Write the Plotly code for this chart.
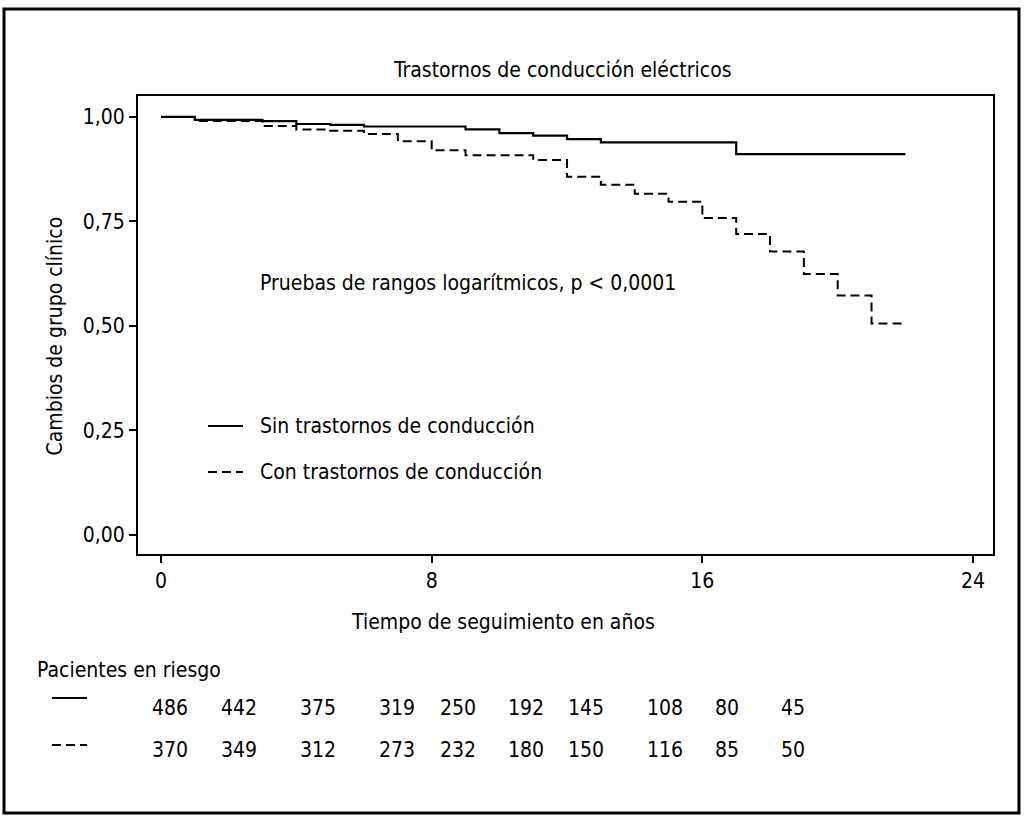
import plotly.graph_objects as go

# ---- data ----
t_sin = [0, 1, 3, 4, 5, 6, 9, 10, 11, 12, 13, 17, 22]
s_sin = [1.000, 0.993, 0.990, 0.983, 0.981, 0.977, 0.970, 0.961, 0.955, 0.947, 0.939, 0.911, 0.911]

t_con = [0, 1, 3, 4, 5, 6, 7, 8, 9, 11, 12, 13, 14, 15, 16, 17, 18, 19, 20, 21, 22]
s_con = [1.000, 0.990, 0.978, 0.970, 0.967, 0.959, 0.942, 0.920, 0.908, 0.897, 0.857,
         0.838, 0.816, 0.797, 0.758, 0.720, 0.678, 0.624, 0.573, 0.506, 0.506]

risk_sin = [486, 442, 375, 319, 250, 192, 145, 108, 80, 45]
risk_con = [370, 349, 312, 273, 232, 180, 150, 116, 85, 50]

x_ticks = [0, 8, 16, 24]
y_ticks = [0, 0.25, 0.5, 0.75, 1.0]

title_txt = "Trastornos de conducción eléctricos"
xtitle_txt = "Tiempo de seguimiento en años"
ytitle_txt = "Cambios de grupo clínico"
test_txt = "Pruebas de rangos logarítmicos, p < 0,0001"
name_sin = "Sin trastornos de conducción"
name_con = "Con trastornos de conducción"
risk_title = "Pacientes en riesgo"

# ---- layout helpers (positions, not data) ----
risk_cols = [0.27, 2.31, 4.65, 6.98, 8.78, 10.79, 12.56, 14.9, 16.73, 18.68]

FONT = "DejaVu Sans Condensed, Liberation Sans, sans-serif"
FS = 21
DASH = "9px,5px"

fig = go.Figure()
fig.add_trace(go.Scatter(x=t_sin, y=s_sin, mode="lines", line_shape="hv",
                         line=dict(color="black", width=2.2), name=name_sin, showlegend=False))
fig.add_trace(go.Scatter(x=t_con, y=s_con, mode="lines", line_shape="hv",
                         line=dict(color="black", width=2, dash=DASH), name=name_con, showlegend=False))

anns = []
def ann(text, x, y, xanchor="center", xref="paper", yref="paper", angle=0):
    anns.append(dict(text=text, x=x, y=y, xref=xref, yref=yref, xanchor=xanchor,
                     yanchor="middle", showarrow=False, textangle=angle,
                     font=dict(family=FONT, size=FS, color="black")))

ann(title_txt, 0.497, 1.057)
ann(xtitle_txt, 0.427, -0.148)
ann(ytitle_txt, -0.097, 0.475, angle=-90)
ann(test_txt, 0.1404, 0.5917, xanchor="left")
ann(name_sin, 0.1404, 0.2795, xanchor="left")
ann(name_con, 0.1404, 0.179, xanchor="left")
ann(risk_title, -0.1205, -0.2533, xanchor="left")
for xc, v in zip(risk_cols, risk_sin):
    ann(str(v), xc, -0.3362, xref="x")
for xc, v in zip(risk_cols, risk_con):
    ann(str(v), xc, -0.428, xref="x")

shapes = [
    dict(type="rect", xref="paper", yref="paper", x0=-0.1567, x1=1.0304, y0=-0.5655, y1=1.19,
         line=dict(color="black", width=3), layer="below"),
    dict(type="line", xref="paper", yref="paper", x0=0.0819, x1=0.1228, y0=0.2795, y1=0.2795,
         line=dict(color="black", width=2)),
    dict(type="line", xref="paper", yref="paper", x0=0.0819, x1=0.1228, y0=0.179, y1=0.179,
         line=dict(color="black", width=2, dash=DASH)),
    dict(type="line", xref="paper", yref="paper", x0=-0.1006, x1=-0.0596, y0=-0.3144, y1=-0.3144,
         line=dict(color="black", width=2)),
    dict(type="line", xref="paper", yref="paper", x0=-0.1006, x1=-0.0596, y0=-0.417, y1=-0.417,
         line=dict(color="black", width=2, dash=DASH)),
]

axis_common = dict(showline=True, mirror=True, linecolor="black", linewidth=2,
                   ticks="outside", ticklen=7, tickwidth=2, tickcolor="black",
                   showgrid=False, zeroline=False,
                   tickfont=dict(family=FONT, size=FS, color="black"))

fig.update_layout(
    width=1024, height=823,
    margin=dict(l=138, r=31, t=96, b=269),
    paper_bgcolor="white", plot_bgcolor="white",
    separators=",.",
    xaxis=dict(range=[-0.68, 24.59], tickvals=x_ticks, **axis_common),
    yaxis=dict(range=[-0.0455, 1.050], tickvals=y_ticks, tickformat=".2f", **axis_common),
    annotations=anns, shapes=shapes,
    showlegend=False,
)

fig.write_html("out.html", config={"displayModeBar": False},
               post_script="document.body.style.margin='0';document.body.style.overflow='hidden';")
